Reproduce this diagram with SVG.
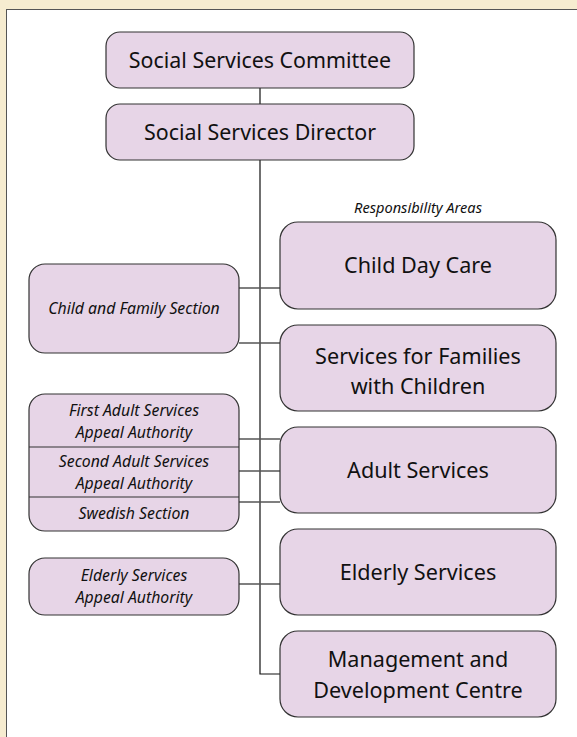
<svg xmlns="http://www.w3.org/2000/svg" width="577" height="737" viewBox="0 0 577 737">
<style>
.box{fill:#e7d5e7;stroke:#333;stroke-width:1.2}
.t{font-family:"Noto Sans","Open Sans",sans-serif;fill:#111;text-anchor:middle}
.top{font-size:21.4px}
.big{font-size:21.6px}
.it{font-family:"Noto Sans","Open Sans",sans-serif;font-style:italic;fill:#111;text-anchor:middle;font-size:15.8px}
.ra{font-size:14.6px}
.c{stroke:#111;stroke-width:1.2;fill:none}
.h{stroke:#555;stroke-width:1.5;fill:none}
</style>
<rect x="0" y="0" width="577" height="737" fill="#f6ecd0"/>
<rect x="6.5" y="9.5" width="580" height="740" fill="#fff" stroke="#555" stroke-width="1"/>
<g id="connectors">
<line class="c" x1="260" y1="88" x2="260" y2="104"/>
<polyline class="c" points="260,160 260,674 280,674"/>
<line class="h" x1="239" y1="288" x2="280" y2="288"/>
<line class="h" x1="239" y1="343" x2="280" y2="343"/>
<line class="h" x1="239" y1="439" x2="280" y2="439"/>
<line class="h" x1="239" y1="471" x2="280" y2="471"/>
<line class="h" x1="239" y1="502" x2="280" y2="502"/>
<line class="h" x1="239" y1="584" x2="280" y2="584"/>
</g>
<g id="committee"><rect class="box" x="106" y="32" width="308" height="56" rx="14"/><text class="t top" x="260" y="68">Social Services Committee</text></g>
<g id="director"><rect class="box" x="106" y="104" width="308" height="56" rx="14"/><text class="t top" x="260" y="140">Social Services Director</text></g>
<text class="it ra" x="418" y="213">Responsibility Areas</text>
<g id="childdaycare"><rect class="box" x="280" y="222" width="276" height="87" rx="18"/><text class="t big" x="418" y="273">Child Day Care</text></g>
<g id="families"><rect class="box" x="280" y="325" width="276" height="86" rx="18"/><text class="t big" x="418" y="364">Services for Families</text><text class="t big" x="418" y="394">with Children</text></g>
<g id="adult"><rect class="box" x="280" y="427" width="276" height="86" rx="18"/><text class="t big" x="418" y="478">Adult Services</text></g>
<g id="elderly"><rect class="box" x="280" y="529" width="276" height="86" rx="18"/><text class="t big" x="418" y="580">Elderly Services</text></g>
<g id="management"><rect class="box" x="280" y="631" width="276" height="86" rx="18"/><text class="t big" x="418" y="667">Management and</text><text class="t big" x="418" y="698">Development Centre</text></g>
<g id="childfamily"><rect class="box" x="29" y="264" width="210" height="89" rx="16"/><text class="it" x="134" y="314">Child and Family Section</text></g>
<g id="appeals"><rect class="box" x="29" y="394" width="210" height="137" rx="16"/>
<line x1="29" y1="447" x2="239" y2="447" stroke="#333" stroke-width="1.2"/>
<line x1="29" y1="497" x2="239" y2="497" stroke="#333" stroke-width="1.2"/>
<text class="it" x="134" y="416">First Adult Services</text><text class="it" x="134" y="438">Appeal Authority</text>
<text class="it" x="134" y="467">Second Adult Services</text><text class="it" x="134" y="489">Appeal Authority</text>
<text class="it" x="134" y="519">Swedish Section</text></g>
<g id="elderlyappeal"><rect class="box" x="29" y="558" width="210" height="57" rx="16"/><text class="it" x="134" y="581">Elderly Services</text><text class="it" x="134" y="603">Appeal Authority</text></g>
</svg>
